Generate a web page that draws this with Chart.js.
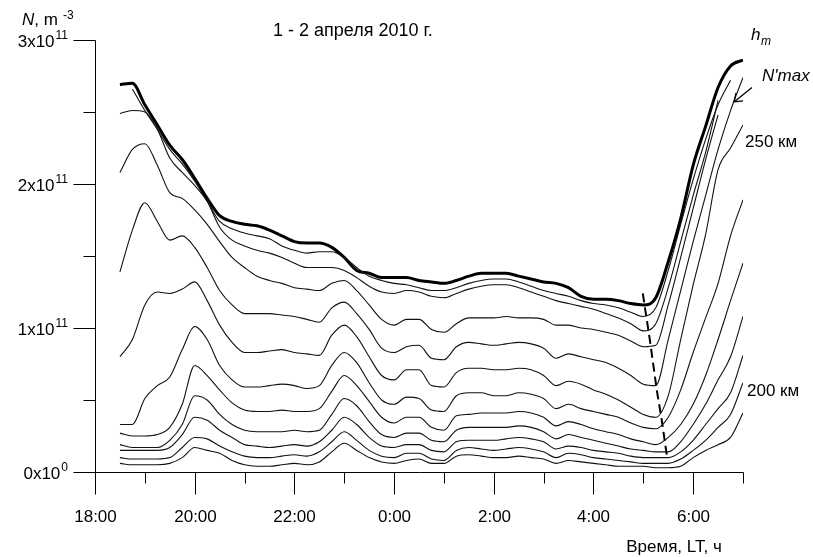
<!DOCTYPE html>
<html>
<head>
<meta charset="utf-8">
<script src="https://cdn.jsdelivr.net/npm/chart.js@4/dist/chart.umd.min.js"></script>
<style>
  html, body { margin: 0; background: #fff; }
  #wrap { width: 813px; height: 557px; }
</style>
</head>
<body>
<div id="wrap"><canvas id="chart" width="813" height="557"></canvas></div>
<script>
// time in hours after 18:00 LT (1-2 April 2010), 15 min step
const hours = [0.5, 0.75, 1, 1.25, 1.5, 1.75, 2, 2.25, 2.5, 2.75, 3, 3.25, 3.5, 3.75, 4, 4.25, 4.5, 4.75,
  5, 5.25, 5.5, 5.75, 6, 6.25, 6.5, 6.75, 7, 7.25, 7.5, 7.75, 8, 8.25, 8.5, 8.75, 9, 9.25, 9.5, 9.75,
  10, 10.25, 10.5, 10.75, 11, 11.25, 11.5, 11.75, 12, 12.25, 12.5, 12.75, 13];

// electron density, units of 1e11 m^-3
const nHm = [2.69, 2.70, 2.55, 2.41, 2.27, 2.17, 2.04, 1.90, 1.78, 1.74, 1.72, 1.71, 1.68, 1.64, 1.60, 1.59, 1.59, 1.56,
  1.49, 1.40, 1.38, 1.35, 1.35, 1.35, 1.33, 1.32, 1.31, 1.33, 1.36, 1.38, 1.38, 1.38, 1.36, 1.34, 1.32, 1.31, 1.28, 1.22,
  1.20, 1.20, 1.19, 1.17, 1.16, 1.21, 1.46, 1.76, 2.13, 2.40, 2.67, 2.82, 2.86];
const n290 = [null, 2.66, 2.51, 2.38, 2.24, 2.14, 2.02, 1.88, 1.74, 1.69, 1.66, 1.64, 1.62, 1.57, 1.54, 1.52, 1.53, 1.53,
  1.49, 1.42, 1.36, 1.33, 1.31, 1.30, 1.28, 1.26, 1.26, 1.28, 1.31, 1.33, 1.34, 1.34, 1.32, 1.29, 1.26, 1.24, 1.22, 1.19,
  1.17, 1.16, 1.14, 1.11, 1.08, 1.14, 1.40, 1.72, 2.03, 2.31, 2.55, 2.72, null];
const n280 = [2.49, 2.51, 2.50, 2.38, 2.18, 2.08, 1.99, 1.88, 1.70, 1.61, 1.57, 1.54, 1.52, 1.49, 1.45, 1.42, 1.42, 1.42,
  1.40, 1.35, 1.29, 1.25, 1.24, 1.26, 1.25, 1.22, 1.21, 1.24, 1.27, 1.29, 1.30, 1.30, 1.28, 1.25, 1.22, 1.19, 1.17, 1.15,
  1.13, 1.10, 1.07, 1.03, 0.98, 1.03, 1.28, 1.60, 1.92, 2.22, 2.58, null, null];
const n270 = [2.08, 2.24, 2.28, 2.13, 1.94, 1.90, 1.82, 1.72, 1.60, 1.49, 1.42, 1.36, 1.33, 1.31, 1.28, 1.27, 1.26, 1.31,
  1.33, 1.26, 1.16, 1.06, 1.02, 1.06, 1.06, 0.99, 0.97, 1.03, 1.07, 1.07, 1.07, 1.08, 1.07, 1.07, 1.06, 1.02, 1.02, 1.00,
  0.99, 0.97, 0.95, 0.91, 0.87, 0.88, 1.16, 1.49, 1.83, 2.17, 2.48, null, null];
const n260 = [1.39, 1.68, 1.87, 1.74, 1.61, 1.64, 1.56, 1.42, 1.26, 1.16, 1.10, 1.10, 1.10, 1.09, 1.08, 1.06, 1.04, 1.14,
  1.18, 1.10, 0.99, 0.86, 0.83, 0.87, 0.88, 0.79, 0.78, 0.87, 0.90, 0.89, 0.88, 0.89, 0.90, 0.89, 0.86, 0.79, 0.82, 0.80,
  0.78, 0.76, 0.72, 0.67, 0.61, 0.60, 0.92, 1.26, 1.60, 1.92, 2.24, 2.51, 2.74];
const n250 = [0.80, 0.92, 1.16, 1.25, 1.24, 1.27, 1.32, 1.19, 1.02, 0.90, 0.83, 0.83, 0.84, 0.85, 0.83, 0.82, 0.81, 0.95,
  1.02, 0.94, 0.80, 0.67, 0.64, 0.71, 0.71, 0.60, 0.59, 0.69, 0.72, 0.72, 0.71, 0.71, 0.72, 0.71, 0.67, 0.60, 0.63, 0.61,
  0.57, 0.54, 0.50, 0.45, 0.40, 0.38, 0.53, 0.92, 1.30, 1.65, 2.10, 2.25, 2.41];
const n240 = [0.33, 0.33, 0.51, 0.60, 0.66, 0.85, 1.01, 0.92, 0.74, 0.64, 0.59, 0.59, 0.60, 0.61, 0.60, 0.58, 0.60, 0.74,
  0.83, 0.76, 0.62, 0.50, 0.47, 0.52, 0.51, 0.43, 0.42, 0.53, 0.55, 0.55, 0.53, 0.53, 0.55, 0.54, 0.51, 0.44, 0.47, 0.44,
  0.42, 0.40, 0.38, 0.34, 0.31, 0.30, 0.38, 0.57, 0.83, 1.07, 1.31, 1.64, 1.89];
const n230 = [0.27, 0.25, 0.25, 0.26, 0.31, 0.47, 0.74, 0.67, 0.57, 0.48, 0.43, 0.42, 0.42, 0.43, 0.42, 0.42, 0.44, 0.56,
  0.67, 0.60, 0.49, 0.38, 0.34, 0.38, 0.38, 0.31, 0.29, 0.39, 0.40, 0.41, 0.41, 0.41, 0.42, 0.41, 0.38, 0.32, 0.35, 0.33,
  0.30, 0.28, 0.26, 0.23, 0.21, 0.19, 0.24, 0.33, 0.47, 0.67, 0.92, 1.19, 1.45];
const n220 = [0.19, 0.17, 0.17, 0.17, 0.22, 0.33, 0.53, 0.50, 0.40, 0.33, 0.29, 0.28, 0.28, 0.28, 0.29, 0.28, 0.29, 0.40,
  0.51, 0.46, 0.35, 0.26, 0.24, 0.27, 0.27, 0.22, 0.21, 0.29, 0.31, 0.31, 0.31, 0.31, 0.32, 0.31, 0.28, 0.23, 0.26, 0.24,
  0.22, 0.20, 0.18, 0.16, 0.15, 0.14, 0.14, 0.21, 0.33, 0.47, 0.64, 0.80, 1.08];
const n210 = [0.15, 0.15, 0.15, 0.15, 0.17, 0.26, 0.38, 0.36, 0.29, 0.24, 0.19, 0.18, 0.17, 0.18, 0.19, 0.18, 0.21, 0.29,
  0.38, 0.33, 0.24, 0.18, 0.17, 0.19, 0.19, 0.15, 0.14, 0.21, 0.22, 0.22, 0.22, 0.23, 0.24, 0.23, 0.21, 0.16, 0.18, 0.17,
  0.15, 0.14, 0.13, 0.11, 0.10, 0.10, 0.10, 0.14, 0.22, 0.33, 0.44, 0.55, 0.81];
const n200 = [0.10, 0.09, 0.09, 0.09, 0.10, 0.17, 0.24, 0.23, 0.18, 0.14, 0.11, 0.10, 0.10, 0.11, 0.12, 0.11, 0.14, 0.21,
  0.28, 0.22, 0.15, 0.11, 0.10, 0.13, 0.13, 0.09, 0.08, 0.15, 0.17, 0.16, 0.15, 0.16, 0.17, 0.16, 0.14, 0.10, 0.13, 0.12,
  0.10, 0.09, 0.08, 0.07, 0.06, 0.06, 0.06, 0.09, 0.15, 0.22, 0.31, 0.40, 0.62];
const n190 = [0.06, 0.05, 0.05, 0.05, 0.06, 0.10, 0.17, 0.15, 0.13, 0.08, 0.05, 0.04, 0.04, 0.05, 0.06, 0.05, 0.07, 0.14,
  0.20, 0.15, 0.10, 0.07, 0.06, 0.08, 0.09, 0.06, 0.06, 0.11, 0.12, 0.11, 0.10, 0.10, 0.11, 0.10, 0.09, 0.06, 0.08, 0.07,
  0.06, 0.05, 0.04, 0.04, 0.04, 0.03, 0.03, 0.04, 0.10, 0.15, 0.19, 0.24, 0.41];

// time of the morning minimum at each height
const minHours = [10.99, 11.13, 11.27, 11.37, 11.47];
const minN = [1.24, 0.92, 0.57, 0.36, 0.12];

const thinSeries = [n290, n280, n270, n260, n250, n240, n230, n220, n210, n200, n190];
const xTicks = [0, 2, 4, 6, 8, 10, 12];
const xTickLabels = ['18:00', '20:00', '22:00', '0:00', '2:00', '4:00', '6:00'];
const yTicks = [0, 1, 2, 3];
const yTickBase = ['0x10', '1x10', '2x10', '3x10'];
const yTickExp = ['0', '11', '11', '11'];

const FONT = '"Liberation Sans", Arial, sans-serif';
const pts = (xs, ys) => xs.map((x, i) => ({x: x, y: ys[i]}));

const datasets = thinSeries.map(s => ({
  data: pts(hours, s), borderColor: '#111', borderWidth: 1.1
}));
datasets.push({
  data: pts(minHours, minN), borderColor: '#000', borderWidth: 2,
  borderDash: [9, 5], cubicInterpolationMode: 'default', tension: 0
});
datasets.push({ data: pts(hours, nHm), borderColor: '#000', borderWidth: 3 });

const axesPlugin = {
  id: 'axesPlugin',
  afterDraw(chart) {
    const {ctx, scales: {x, y}} = chart;
    const X = v => Math.round(x.getPixelForValue(v)) + 0.5;
    const Y = v => Math.round(y.getPixelForValue(v)) + 0.5;
    ctx.save();
    ctx.strokeStyle = '#000';
    ctx.fillStyle = '#000';
    ctx.lineWidth = 1;
    ctx.beginPath();
    // axis lines
    ctx.moveTo(X(0), Y(3)); ctx.lineTo(X(0), Y(0));
    ctx.moveTo(X(0), Y(0)); ctx.lineTo(X(13), Y(0));
    // x ticks
    for (let h = 0; h <= 13; h++) {
      const len = h % 2 === 0 ? 22 : 11;
      ctx.moveTo(X(h), Y(0)); ctx.lineTo(X(h), Y(0) + len);
    }
    // y ticks
    for (let k = 0; k <= 6; k++) {
      const v = k / 2;
      const len = k % 2 === 0 ? 22 : 12;
      ctx.moveTo(X(0), Y(v)); ctx.lineTo(X(0) - len, Y(v));
    }
    ctx.stroke();

    // x tick labels
    ctx.font = '17px ' + FONT;
    ctx.textAlign = 'center';
    ctx.textBaseline = 'alphabetic';
    xTicks.forEach((h, i) => ctx.fillText(xTickLabels[i], X(h), 522));

    // y tick labels with superscript
    yTicks.forEach((v, i) => {
      ctx.font = '17px ' + FONT;
      const wb = ctx.measureText(yTickBase[i]).width;
      ctx.font = '12px ' + FONT;
      const we = ctx.measureText(yTickExp[i]).width;
      const left = 67 - wb - we;
      const yy = y.getPixelForValue(v);
      ctx.textAlign = 'left';
      ctx.font = '17px ' + FONT;
      ctx.fillText(yTickBase[i], left, yy + 7);
      ctx.font = '12px ' + FONT;
      ctx.fillText(yTickExp[i], left + wb + 1, yy - 1);
    });

    // y axis title
    ctx.textAlign = 'left';
    ctx.font = 'italic 17px ' + FONT;
    ctx.fillText('N', 22, 25);
    const wN = ctx.measureText('N').width;
    ctx.font = '17px ' + FONT;
    ctx.fillText(', m', 22 + wN, 25);
    ctx.font = '12px ' + FONT;
    ctx.fillText('-3', 63, 19);

    // title
    ctx.font = '18px ' + FONT;
    ctx.fillText('1 - 2 апреля 2010 г.', 273, 36);

    // x axis title
    ctx.font = '17px ' + FONT;
    ctx.textAlign = 'center';
    ctx.fillText('Время, LT, ч', 674, 552);

    // curve labels
    ctx.textAlign = 'left';
    ctx.font = 'italic 17px ' + FONT;
    ctx.fillText('h', 751, 40);
    ctx.font = 'italic 12px ' + FONT;
    ctx.fillText('m', 761, 45);
    ctx.font = 'italic 17px ' + FONT;
    ctx.fillText("N'max", 762, 81);
    ctx.font = '17px ' + FONT;
    ctx.fillText('250 км', 745, 147);
    ctx.fillText('200 км', 747, 396);

    // arrow to the N'max curve
    const ax = x.getPixelForValue(12.82), ay = y.getPixelForValue(2.57);
    const bx = x.getPixelForValue(13.18), by = y.getPixelForValue(2.67);
    ctx.lineWidth = 1.3;
    ctx.beginPath();
    ctx.moveTo(bx, by); ctx.lineTo(ax, ay);
    ctx.moveTo(ax, ay); ctx.lineTo(ax + 9, ay - 1);
    ctx.moveTo(ax, ay); ctx.lineTo(ax + 2, ay - 9);
    ctx.stroke();
    ctx.restore();
  }
};

new Chart(document.getElementById('chart'), {
  type: 'line',
  data: { datasets: datasets },
  options: {
    responsive: false,
    animation: false,
    devicePixelRatio: 1,
    layout: { padding: { left: 95, right: 70, top: 40, bottom: 85 } },
    plugins: { legend: { display: false }, tooltip: { enabled: false } },
    elements: {
      point: { radius: 0 },
      line: { cubicInterpolationMode: 'monotone', fill: false }
    },
    scales: {
      x: { type: 'linear', min: 0, max: 13, display: false },
      y: { min: 0, max: 3, display: false }
    }
  },
  plugins: [axesPlugin]
});
</script>
</body>
</html>
